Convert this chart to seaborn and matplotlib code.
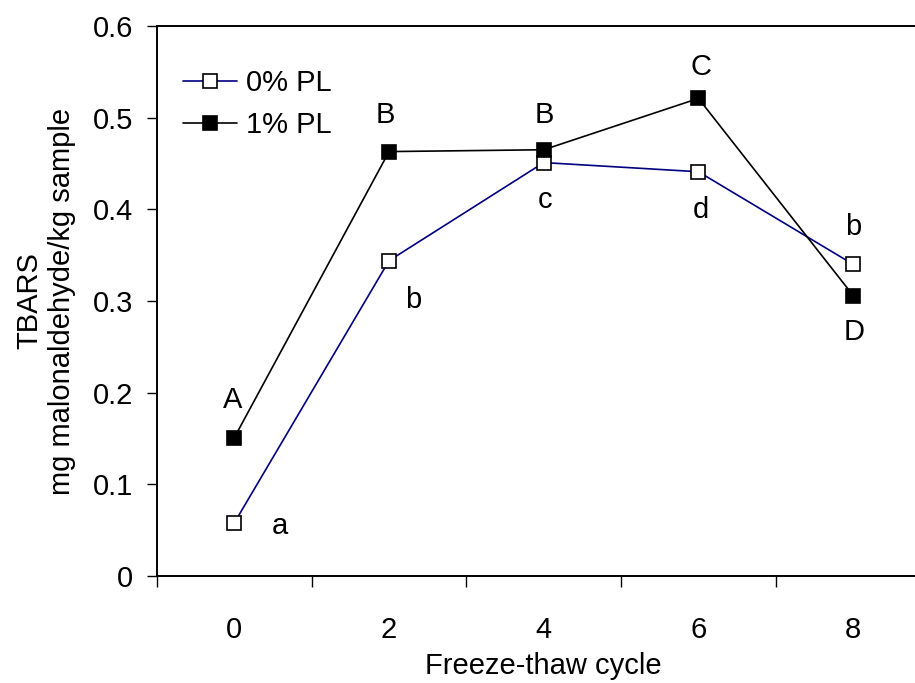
import numpy as np
import pandas as pd
import matplotlib
matplotlib.use("Agg")
import matplotlib.pyplot as plt
import seaborn as sns

# Freeze-thaw cycles and TBARS values (mg malonaldehyde/kg sample)
cycles = [0, 2, 4, 6, 8]
tbars_pl0 = [0.058, 0.344, 0.451, 0.441, 0.340]
tbars_pl1 = [0.151, 0.463, 0.465, 0.521, 0.306]

# Significance letters for each treatment
letters_pl0 = ["a", "b", "c", "d", "b"]
letters_pl1 = ["A", "B", "B", "C", "D"]

series_names = ["0% PL", "1% PL"]

FS = 21

sns.set_style("ticks")
plt.rcParams["font.family"] = ["Liberation Sans", "DejaVu Sans"]
plt.rcParams["font.size"] = FS
for key in ["text.color", "axes.labelcolor", "xtick.color", "ytick.color"]:
    plt.rcParams[key] = "black"

fig = plt.figure(figsize=(9.15, 6.83), dpi=100)
ax = fig.add_axes([157 / 915, 107 / 683, 773.5 / 915, 550 / 683])

pos = np.arange(len(cycles))
df = pd.DataFrame({
    "pos": np.concatenate([pos, pos]),
    "tbars": tbars_pl0 + tbars_pl1,
    "series": [series_names[0]] * len(cycles) + [series_names[1]] * len(cycles),
})

styles = {
    series_names[0]: dict(color="#000080", markerfacecolor="white", zorder=3),
    series_names[1]: dict(color="black", markerfacecolor="black", zorder=4),
}
for name in series_names:
    sub = df[df["series"] == name]
    sns.lineplot(data=sub, x="pos", y="tbars", ax=ax, label=name,
                 marker="s", markersize=9.5, markeredgecolor="black",
                 markeredgewidth=1.2, linewidth=1.2, **styles[name])

# Letter annotations, offset from their points in pixels
off_pl1 = [(-1.5, 30), (-3.5, 29), (1, 27), (3, 23), (0.5, -44)]
off_pl0 = [(46, -11), (24.5, -47), (1, -45), (2.5, -46), (0, 29)]
for i, (v, t, (dx, dy)) in enumerate(zip(tbars_pl1, letters_pl1, off_pl1)):
    ax.annotate(t, xy=(pos[i], v), xytext=(dx, dy), textcoords="offset pixels",
                ha="center", va="baseline", fontsize=FS)
for i, (v, t, (dx, dy)) in enumerate(zip(tbars_pl0, letters_pl0, off_pl0)):
    ax.annotate(t, xy=(pos[i], v), xytext=(dx, dy), textcoords="offset pixels",
                ha="center", va="baseline", fontsize=FS)

ax.set_xlim(-0.5, len(cycles) - 0.5)
ax.set_ylim(0, 0.6)
ax.set_yticks(np.arange(0, 0.61, 0.1))
ax.set_yticklabels(["0"] + [f"{t:.1f}" for t in np.arange(0.1, 0.61, 0.1)])
ax.set_xticks(pos)
ax.set_xticklabels([str(c) for c in cycles])
ax.set_xticks(np.arange(-0.5, len(cycles)), minor=True)
ax.tick_params(axis="x", which="major", length=0, pad=29, labelsize=FS)
ax.tick_params(axis="x", which="minor", length=8, width=1, direction="out", color="black")
ax.tick_params(axis="y", length=7, width=1, direction="out", pad=10, labelsize=FS, color="black")

for s in ["left", "bottom", "top", "right"]:
    ax.spines[s].set_visible(True)
    ax.spines[s].set_color("black")
    ax.spines[s].set_linewidth(1.4)

ax.set_xlabel("Freeze-thaw cycle", fontsize=FS)
ax.xaxis.label.set_va("center")
ax.xaxis.set_label_coords(0.5, (576 - 666) / 550)

ax.set_ylabel("TBARS\nmg malonaldehyde/kg sample", fontsize=FS, linespacing=1.2)
ax.yaxis.label.set_va("center")
ax.yaxis.set_label_coords((46 - 157) / 773.5, 0.5)

leg = ax.legend(loc="upper left", bbox_to_anchor=(0.0336, 0.922), frameon=False,
                borderaxespad=0, borderpad=0, handlelength=1.85, handletextpad=0.3,
                labelspacing=0.5, fontsize=FS)

fig.savefig("out.png", dpi=100)
